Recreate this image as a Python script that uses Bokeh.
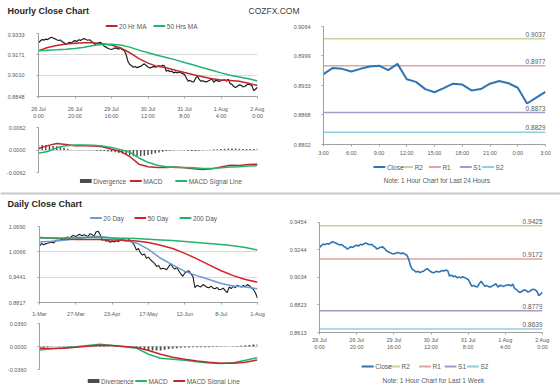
from bokeh.plotting import figure
from bokeh.models import Range1d, FixedTicker, PrintfTickFormatter, Label, Span
from bokeh.layouts import column, row
from bokeh.embed import file_html
from bokeh.resources import INLINE
from bokeh.core.properties import value

# ---------------- data ----------------
hourly_close = [
    0.9261, 0.9275, 0.9287, 0.9282, 0.9290, 0.9286, 0.9296, 0.9304, 0.9298, 0.9292,
    0.9285, 0.9279, 0.9283, 0.9269, 0.9262, 0.9248, 0.9258, 0.9266, 0.9261, 0.9272,
    0.9278, 0.9271, 0.9285, 0.9280, 0.9289, 0.9294, 0.9287, 0.9281, 0.9285, 0.9272,
    0.9263, 0.9248, 0.9256, 0.9262, 0.9265, 0.9252, 0.9235, 0.9228, 0.9220, 0.9214,
    0.9210, 0.9216, 0.9222, 0.9218, 0.9213, 0.9220, 0.9208, 0.9202, 0.9171, 0.9120,
    0.9094, 0.9085, 0.9073, 0.9079, 0.9070, 0.9076, 0.9080, 0.9091, 0.9099, 0.9086,
    0.9075, 0.9068, 0.9072, 0.9080, 0.9074, 0.9078, 0.9085, 0.9081, 0.9089, 0.9084,
    0.9042, 0.9050, 0.9038, 0.9044, 0.9030, 0.9036, 0.9029, 0.9037, 0.9031, 0.9024,
    0.9017, 0.8990, 0.8965, 0.8972, 0.8963, 0.8960, 0.8985, 0.9004, 0.8982, 0.8965,
    0.8970, 0.8962, 0.8960, 0.8968, 0.8975, 0.8984, 0.8958, 0.8972, 0.8970, 0.8964,
    0.8970, 0.8975, 0.8977, 0.8967, 0.8981, 0.8947, 0.8941, 0.8925, 0.8918, 0.8927,
    0.8937, 0.8935, 0.8922, 0.8925, 0.8937, 0.8943, 0.8938, 0.8928, 0.8893, 0.8906,
    0.8919]
hourly_x = list(range(len(hourly_close)))
hourly_tick_pos = [0, 20, 40, 60, 80, 100, 120]
hourly_tick_labels = ["26 Jul\n0:00", "26 Jul\n20:00", "29 Jul\n16:00", "30 Jul\n12:00",
                      "31 Jul\n8:00", "1 Aug\n4:00", "2 Aug\n0:00"]
hourly_price_ticks = [0.8848, 0.9010, 0.9171, 0.9333]

hourly_ma_x = list(range(0, 121, 5))
ma20_hr = [0.9201, 0.9225, 0.9240, 0.9252, 0.9258, 0.9262, 0.9262, 0.9255, 0.9245, 0.9222,
           0.9185, 0.9140, 0.9105, 0.9080, 0.9070, 0.9050, 0.9032, 0.9015, 0.9000, 0.8985,
           0.8975, 0.8972, 0.8965, 0.8950, 0.8932]
ma50_hr = [0.9201, 0.9204, 0.9207, 0.9211, 0.9218, 0.9228, 0.9240, 0.9249, 0.9250, 0.9245,
           0.9228, 0.9205, 0.9185, 0.9165, 0.9148, 0.9130, 0.9110, 0.9090, 0.9070, 0.9050,
           0.9030, 0.9012, 0.8998, 0.8985, 0.8968]
macd_hr = [0.0004, 0.0012, 0.0018, 0.0015, 0.0012, 0.0012, 0.0011, 0.0009, 0.0002, -0.0004,
           -0.0018, -0.0039, -0.0046, -0.0048, -0.0048, -0.0047, -0.0049, -0.0052, -0.0054, -0.0052,
           -0.0047, -0.0042, -0.0043, -0.0040, -0.0039]
signal_hr = [-0.0009, -0.0004, 0.0006, 0.0012, 0.0014, 0.0014, 0.0013, 0.0011, 0.0007, 0.0001,
             -0.0006, -0.0022, -0.0034, -0.0042, -0.0046, -0.0048, -0.0048, -0.0049, -0.0051, -0.0051,
             -0.0049, -0.0047, -0.0046, -0.0044, -0.0043]
div_hr_x = list(range(0, 121, 2))
div_hr = [0.0013, 0.0014, 0.0013, 0.0012, 0.0011, 0.0010, 0.0008, 0.0006, 0.0003, 0.0001,
          0.0000, -0.0001, -0.0001, 0.0000, -0.0001, -0.0001, -0.0002, -0.0003, -0.0003, -0.0004,
          -0.0005, -0.0006, -0.0008, -0.0010, -0.0013, -0.0015, -0.0017, -0.0018, -0.0017, -0.0016,
          -0.0014, -0.0012, -0.0009, -0.0007, -0.0005, -0.0003, -0.0002, -0.0001, 0.0000, -0.0001,
          -0.0001, -0.0002, -0.0003, -0.0003, -0.0002, -0.0001, 0.0000, 0.0001, 0.0002, 0.0002,
          0.0003, 0.0003, 0.0004, 0.0004, 0.0004, 0.0003, 0.0003, 0.0003, 0.0003, 0.0003, 0.0004]
macd_hr_ticks = [-0.0062, 0.0, 0.0062]

last24_close = [0.8958, 0.8972, 0.8970, 0.8964, 0.8970, 0.8975, 0.8977, 0.8967, 0.8981, 0.8947,
                0.8941, 0.8925, 0.8918, 0.8927, 0.8937, 0.8935, 0.8922, 0.8925, 0.8937, 0.8943,
                0.8938, 0.8928, 0.8893, 0.8906, 0.8919]
last24_x = list(range(len(last24_close)))
last24_tick_pos = [0, 3, 6, 9, 12, 15, 18, 21, 24]
last24_tick_labels = ["3:00", "6:00", "9:00", "12:00", "15:00", "18:00", "21:00", "0:00", "3:00"]
last24_ticks = [0.8802, 0.8868, 0.8933, 0.8999, 0.9064]
level_names = ["R2", "R1", "S1", "S2"]
levels_24 = [0.9037, 0.8977, 0.8873, 0.8829]

daily_close = [
    1.0205, 1.0271, 1.0240, 1.0262, 1.0275, 1.0290, 1.0310, 1.0285, 1.0330, 1.0351,
    1.0340, 1.0372, 1.0395, 1.0410, 1.0431, 1.0405, 1.0450, 1.0472, 1.0440, 1.0478,
    1.0496, 1.0460, 1.0485, 1.0470, 1.0440, 1.0512, 1.0490, 1.0448, 1.0552, 1.0576,
    1.0500, 1.0351, 1.0372, 1.0330, 1.0345, 1.0300, 1.0325, 1.0310, 1.0340, 1.0320,
    1.0351, 1.0368, 1.0338, 1.0330, 1.0360, 1.0351, 1.0290, 1.0230, 1.0109, 1.0150,
    1.0040, 0.9987, 1.0010, 0.9907, 0.9935, 0.9870, 0.9826, 0.9780, 0.9705, 0.9730,
    0.9641, 0.9660, 0.9650, 0.9624, 0.9700, 0.9769, 0.9690, 0.9640, 0.9680, 0.9600,
    0.9520, 0.9462, 0.9544, 0.9580, 0.9600, 0.9520, 0.9460, 0.9180, 0.9240, 0.9220,
    0.9200, 0.9260, 0.9230, 0.9190, 0.9180, 0.9220, 0.9170, 0.9156, 0.9190, 0.9130,
    0.9140, 0.9170, 0.9110, 0.9059, 0.9200, 0.9160, 0.9219, 0.9180, 0.9240, 0.9219,
    0.9200, 0.9235, 0.9210, 0.9260, 0.9230, 0.9180, 0.9139, 0.9050, 0.8920]
daily_x = list(range(len(daily_close)))
daily_tick_pos = [0, 18, 36, 54, 72, 90, 108]
daily_tick_labels = ["1-Mar", "27-Mar", "23-Apr", "17-May", "12-Jun", "8-Jul", "1-Aug"]
daily_price_ticks = [0.8817, 0.9441, 1.0066, 1.0690]

daily_ma_x = list(range(0, 109, 6))
ma20_d = [1.0310, 1.0327, 1.0351, 1.0383, 1.0432, 1.0448, 1.0408, 1.0351, 1.0286, 1.0125,
          0.9907, 0.9745, 0.9584, 0.9479, 0.9382, 0.9285, 0.9221, 0.9197, 0.9156]
ma50_d = [1.0416, 1.0400, 1.0383, 1.0367, 1.0367, 1.0367, 1.0359, 1.0351, 1.0335, 1.0294,
          1.0230, 1.0149, 1.0028, 0.9891, 0.9745, 0.9600, 0.9479, 0.9382, 0.9317]
ma200_d = [1.0408, 1.0408, 1.0408, 1.0416, 1.0416, 1.0416, 1.0408, 1.0400, 1.0392, 1.0375,
           1.0359, 1.0343, 1.0319, 1.0294, 1.0270, 1.0246, 1.0213, 1.0173, 1.0109]
macd_d = [-0.0053, -0.0037, -0.0021, -0.0005, 0.0016, 0.0037, 0.0016, -0.0005, -0.0026, -0.0121,
          -0.0184, -0.0200, -0.0216, -0.0237, -0.0258, -0.0268, -0.0253, -0.0216, -0.0174]
signal_d = [-0.0026, -0.0032, -0.0026, -0.0011, 0.0005, 0.0021, 0.0016, 0.0000, -0.0016, -0.0063,
            -0.0121, -0.0168, -0.0200, -0.0226, -0.0247, -0.0263, -0.0263, -0.0247, -0.0210]
div_d_x = list(range(0, 109, 2))
div_d = [-0.0027, -0.0020, -0.0012, -0.0005, 0.0000, 0.0003, 0.0005, 0.0006, 0.0006, 0.0006,
         0.0008, 0.0010, 0.0011, 0.0013, 0.0015, 0.0016, 0.0008, 0.0003, 0.0000, -0.0002,
         -0.0004, -0.0005, -0.0007, -0.0009, -0.0010, -0.0030, -0.0045, -0.0058, -0.0063, -0.0064,
         -0.0063, -0.0050, -0.0040, -0.0032, -0.0027, -0.0020, -0.0016, -0.0014, -0.0012, -0.0011,
         -0.0011, -0.0011, -0.0011, -0.0009, -0.0007, -0.0005, -0.0002, 0.0000, 0.0005, 0.0008,
         0.0012, 0.0018, 0.0022, 0.0030, 0.0036]
macd_d_ticks = [-0.0360, 0.0, 0.0360]

week_ticks = [0.8613, 0.8823, 0.9034, 0.9244, 0.9454]
levels_week = [0.9425, 0.9172, 0.8779, 0.8639]

# ---------------- style ----------------
FONT = "Liberation Sans"
TICK_FS = "5.5px"
LEG_FS = "6.5px"
TXT = "#595959"
AXIS_C = "#a0a0a0"
GRID_C = "#d9d9d9"
DIV_C = "#4d4d4d"
LEVEL_COLORS = ["#c3d69b", "#e0a4a2", "#a898c8", "#8fcfdc"]
BLUE = "#2e75b6"
C_BLACK = "#1c1c1c"
C_RED = "#c0282e"
C_GREEN = "#20b46e"
C_BLUE_MA = "#6b9bd1"
C_RED_D = "#d1232a"
C_GREEN_D = "#23b26b"


def base_fig(w, h, l, r, t, b, xr, yr, xaxis=True):
    kw = {}
    if not xaxis:
        kw["x_axis_type"] = None
    p = figure(width=w, height=h, x_range=xr, y_range=yr, toolbar_location=None,
               output_backend="svg", min_border_left=l, min_border_right=r,
               min_border_top=t, min_border_bottom=b, **kw)
    p.outline_line_color = None
    for g in p.xgrid:
        g.visible = False
    return p


def style_axis_common(ax):
    ax.axis_line_color = AXIS_C
    ax.major_tick_line_color = AXIS_C
    ax.major_tick_in = 0
    ax.major_tick_out = 2
    ax.minor_tick_line_color = None
    ax.major_label_text_font = FONT
    ax.major_label_text_font_size = TICK_FS
    ax.major_label_text_color = TXT


def style_yaxis(p, ticks, standoff, grid=True):
    ax = p.yaxis[0]
    ax.ticker = FixedTicker(ticks=ticks)
    ax.formatter = PrintfTickFormatter(format="%.4f")
    ax.bounds = (ticks[0], ticks[-1])
    style_axis_common(ax)
    ax.major_label_standoff = standoff
    g = p.ygrid[0]
    if grid:
        g.ticker = FixedTicker(ticks=ticks)
        g.grid_line_color = GRID_C
    else:
        g.visible = False


def style_xaxis(p, pos, labels, standoff):
    ax = p.xaxis[0]
    ax.ticker = FixedTicker(ticks=pos)
    ax.major_label_overrides = {k: v for k, v in zip(pos, labels)}
    style_axis_common(ax)
    ax.major_label_standoff = standoff


def strip(w, h):
    # a pixel-scaled strip (y grows downward) for titles, legends and notes
    p = figure(width=w, height=h, x_range=Range1d(0, w), y_range=Range1d(h, 0),
               x_axis_type=None, y_axis_type=None, toolbar_location=None,
               output_backend="svg", min_border=0)
    p.outline_line_color = None
    return p


def legend_strip(w, h, specs, starts, y, note=None):
    """specs: (label, kind, colour); starts: left edge of each key swatch in the strip."""
    p = strip(w, h)
    gw = 15
    lines = [(s, c) for (lab, kind, c), s in zip(specs, starts) if kind == "line"]
    bars = [(s, c) for (lab, kind, c), s in zip(specs, starts) if kind == "bar"]
    if lines:
        p.segment(x0=[s for s, _ in lines], x1=[s + gw for s, _ in lines],
                  y0=[y] * len(lines), y1=[y] * len(lines),
                  line_color=[c for _, c in lines], line_width=2)
    if bars:
        p.segment(x0=[s for s, _ in bars], x1=[s + gw for s, _ in bars],
                  y0=[y] * len(bars), y1=[y] * len(bars),
                  line_color=[c for _, c in bars], line_width=4, line_cap="butt")
    p.text(x=[s + gw + 2 for s in starts], y=[y] * len(starts),
           text=[lab for lab, _, _ in specs], text_font=value(FONT), text_font_size=LEG_FS,
           text_color=TXT, text_baseline="middle", text_align="left")
    if note is not None:
        text, nx, ny = note
        p.add_layout(Label(x=nx, y=ny, text=text, text_font=FONT, text_font_size="6.5px",
                           text_color=TXT, text_align="center", text_baseline="middle"))
    return p


def title_label(text, x, y, size="9px", bold=True, color="#262626"):
    return Label(x=x, y=y, text=text, text_font=FONT, text_font_size=size,
                 text_font_style="bold" if bold else "normal", text_color=color,
                 text_baseline="middle", text_align="left")


# ---------------- header 1 ----------------
h1 = strip(560, 20)
h1.add_layout(title_label("Hourly Close Chart", 7, 10))
h1.add_layout(title_label("COZFX.COM", 248, 10, size="8.5px", bold=False, color="#404040"))

# ---------------- hourly price (top-left) ----------------
tl_leg = legend_strip(280, 12, [("20 Hr MA", "line", C_RED), ("50 Hrs MA", "line", C_GREEN)],
                      [86, 147], 5.5)
tl = base_fig(280, 89, 38, 23, 1, 23,
              Range1d(hourly_x[0], hourly_x[-1]),
              Range1d(hourly_price_ticks[0], hourly_price_ticks[-1]))
style_yaxis(tl, hourly_price_ticks, 12)
style_xaxis(tl, hourly_tick_pos, hourly_tick_labels, 7)
tl.line(hourly_x, hourly_close, line_color=C_BLACK, line_width=1.2)
tl.line(hourly_ma_x, ma20_hr, line_color=C_RED, line_width=1.5)
tl.line(hourly_ma_x, ma50_hr, line_color=C_GREEN, line_width=1.5)

# ---------------- hourly MACD ----------------
tlm = base_fig(280, 56, 38, 23, 6, 5,
               Range1d(hourly_x[0], hourly_x[-1]),
               Range1d(macd_hr_ticks[0], macd_hr_ticks[-1]), xaxis=False)
style_yaxis(tlm, macd_hr_ticks, 11)
tlm.vbar(x=div_hr_x, top=div_hr, bottom=0, width=0.8, fill_color=DIV_C, line_color=None)
tlm.line(hourly_ma_x, macd_hr, line_color=C_RED, line_width=1.5)
tlm.line(hourly_ma_x, signal_hr, line_color=C_GREEN, line_width=1.5)
tlm_leg = legend_strip(280, 14, [("Divergence", "bar", DIV_C), ("MACD", "line", C_RED),
                                 ("MACD Signal Line", "line", C_GREEN)], [53, 117, 175], 3.5)

# ---------------- last 24 hours (top-right) ----------------
tr = base_fig(280, 140, 43, 15, 6, 16,
              Range1d(last24_x[0], last24_x[-1]),
              Range1d(last24_ticks[0], last24_ticks[-1]))
style_yaxis(tr, last24_ticks, 11, grid=False)
style_xaxis(tr, last24_tick_pos, last24_tick_labels, 3)
for v, c in zip(levels_24, LEVEL_COLORS):
    tr.line([last24_x[0], last24_x[-1]], [v, v], line_color=c, line_width=1.5)
tr.line(last24_x, last24_close, line_color=BLUE, line_width=2)
tr.text(x=[last24_x[-1]] * len(levels_24), y=levels_24, text=[f"{v:.4f}" for v in levels_24],
        text_font=value(FONT), text_font_size="6.5px", text_color=TXT,
        text_align="right", text_baseline="bottom", y_offset=-2)
tr_leg = legend_strip(280, 31, [("Close", "line", BLUE)] +
                      [(n, "line", c) for n, c in zip(level_names, LEVEL_COLORS)],
                      [63, 98, 133, 172, 200], 6.5,
                      note=("Note: 1 Hour Chart for Last 24 Hours", 143, 20))

# ---------------- header 2 ----------------
h2 = strip(560, 21)
h2.add_layout(Span(location=2, dimension="width", line_color="#c8c8c8", line_width=2))
h2.add_layout(title_label("Daily Close Chart", 7, 12))

# ---------------- daily price (bottom-left) ----------------
bl_leg = legend_strip(280, 12, [("20 Day", "line", C_BLUE_MA), ("50 Day", "line", C_RED_D),
                                ("200 Day", "line", C_GREEN_D)], [65, 122, 180], 5.5)
bl = base_fig(280, 95, 39, 23, 2, 16,
              Range1d(daily_x[0], daily_x[-1]),
              Range1d(daily_price_ticks[0], daily_price_ticks[-1]))
style_yaxis(bl, daily_price_ticks, 12)
style_xaxis(bl, daily_tick_pos, daily_tick_labels, 6)
bl.line(daily_x, daily_close, line_color=C_BLACK, line_width=1.1)
bl.line(daily_ma_x, ma20_d, line_color=C_BLUE_MA, line_width=1.5)
bl.line(daily_ma_x, ma50_d, line_color=C_RED_D, line_width=1.5)
bl.line(daily_ma_x, ma200_d, line_color=C_GREEN_D, line_width=1.5)

# ---------------- daily MACD ----------------
blm = base_fig(280, 55, 39, 23, 4, 5,
               Range1d(daily_x[0], daily_x[-1]),
               Range1d(macd_d_ticks[0], macd_d_ticks[-1]), xaxis=False)
style_yaxis(blm, macd_d_ticks, 11)
blm.vbar(x=div_d_x, top=div_d, bottom=0, width=0.9, fill_color=DIV_C, line_color=None)
blm.line(daily_ma_x, macd_d, line_color=C_GREEN, line_width=1.5)
blm.line(daily_ma_x, signal_d, line_color=C_RED, line_width=1.5)
blm_leg = legend_strip(280, 10, [("Divergence", "bar", DIV_C), ("MACD", "line", C_GREEN),
                                 ("MACD Signal Line", "line", C_RED)], [62, 123, 172], 4.5)

# ---------------- last week (bottom-right) ----------------
week_top = week_ticks[-1] + (week_ticks[-1] - week_ticks[0]) * 0.0865  # room for the R2 label
br = base_fig(280, 140, 39, 18, 0, 18,
              Range1d(hourly_x[0], hourly_x[-1]),
              Range1d(week_ticks[0], week_top))
style_yaxis(br, week_ticks, 11, grid=False)
style_xaxis(br, hourly_tick_pos, hourly_tick_labels, 2)
for v, c in zip(levels_week, LEVEL_COLORS):
    br.line([hourly_x[0], hourly_x[-1]], [v, v], line_color=c, line_width=1.5)
br.line(hourly_x, hourly_close, line_color=BLUE, line_width=1.6)
br.text(x=[hourly_x[-1]] * len(levels_week), y=levels_week, text=[f"{v:.4f}" for v in levels_week],
        text_font=value(FONT), text_font_size="6.5px", text_color=TXT,
        text_align="right", text_baseline="bottom", y_offset=-2)
br_leg = legend_strip(280, 32, [("Close", "line", BLUE)] +
                      [(n, "line", c) for n, c in zip(level_names, LEVEL_COLORS)],
                      [53, 86, 125, 157, 185], 14,
                      note=("Note: 1 Hour Chart for Last 1 Week", 143, 28))

# ---------------- footer ----------------
ft = strip(560, 2)
ft.background_fill_color = "#c8c8c8"
ft.border_fill_color = "#c8c8c8"

layout = column(
    h1,
    row(column(tl_leg, tl, tlm, tlm_leg), column(tr, tr_leg)),
    h2,
    row(column(bl_leg, bl, blm, blm_leg), column(br, br_leg)),
    ft,
)

open("out.html", "w").write(file_html(layout, INLINE))
